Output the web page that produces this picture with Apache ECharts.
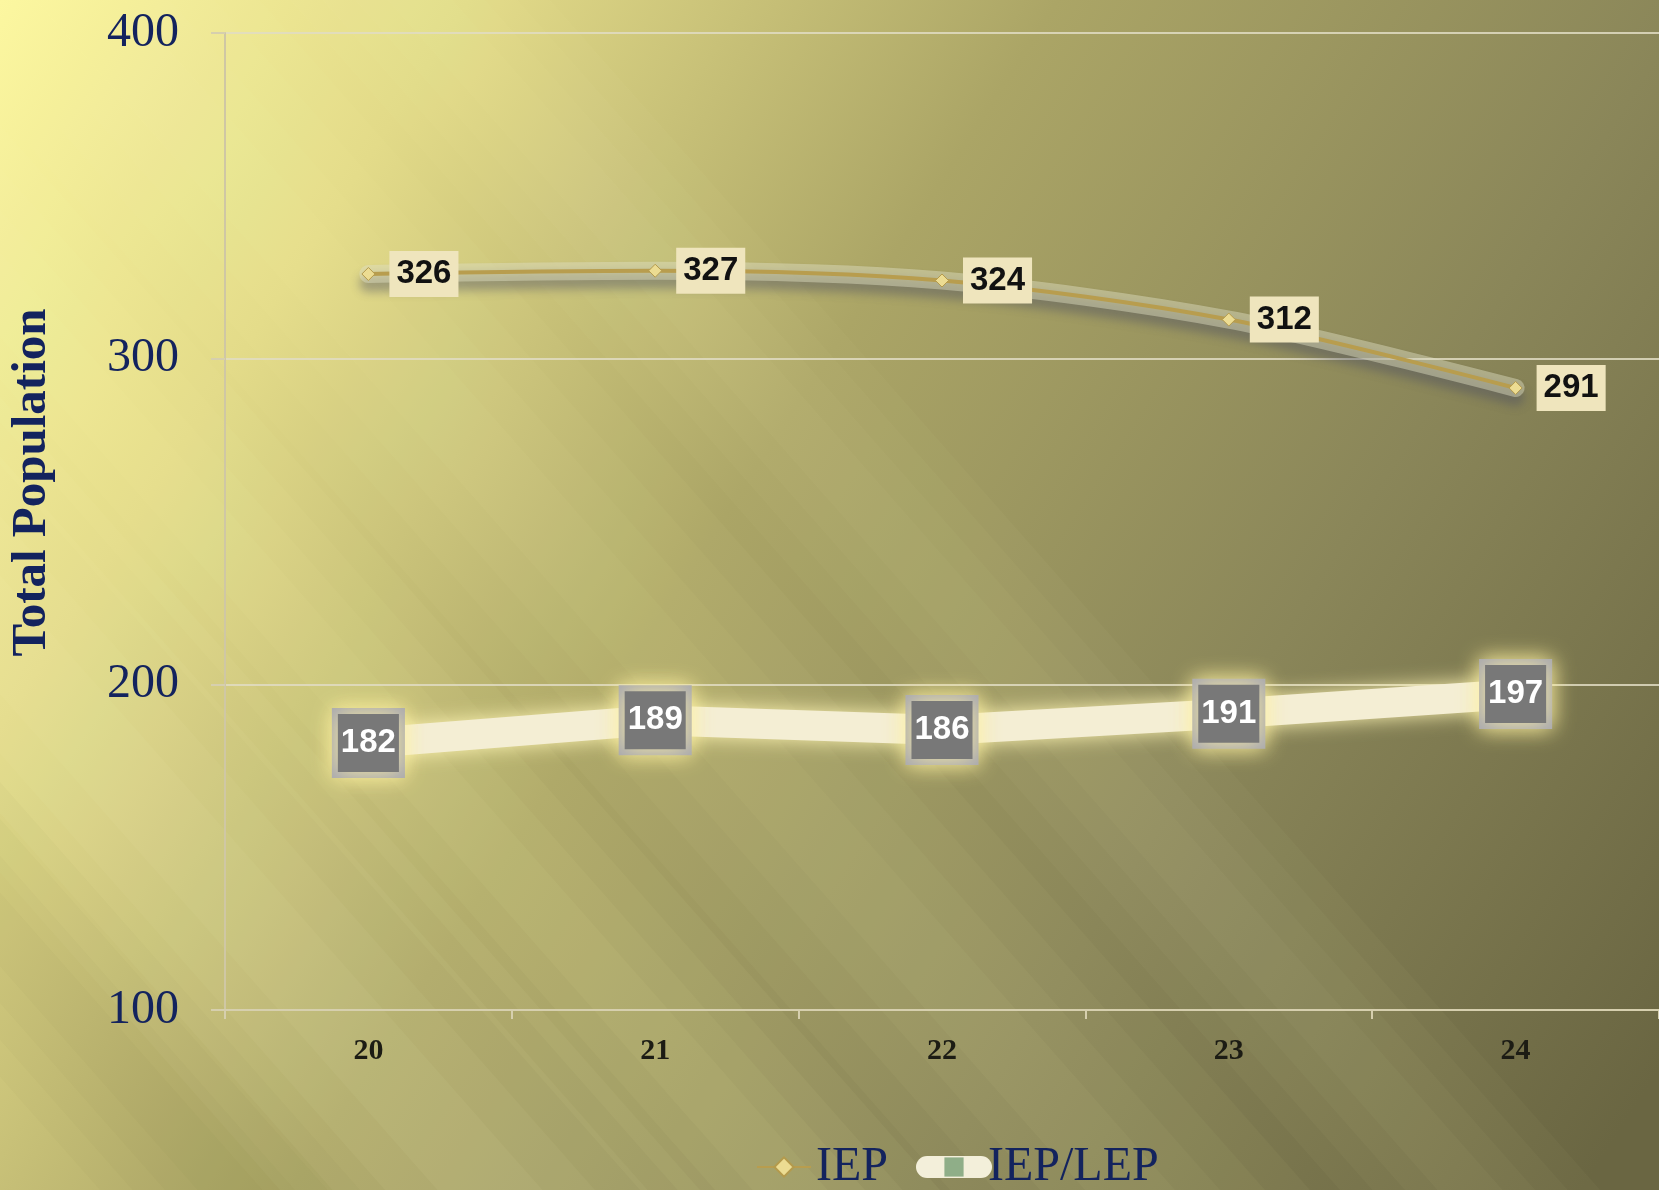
<!DOCTYPE html>
<html>
<head>
<meta charset="utf-8">
<script src="https://cdn.jsdelivr.net/npm/echarts@6/dist/echarts.min.js"></script>
<style>
html,body{margin:0;padding:0;background:#b0a868;}
#chart{width:1659px;height:1190px;}
</style>
</head>
<body>
<div id="chart"></div>
<script>
var categories = ['20', '21', '22', '23', '24'];
var iepValues = [326, 327, 324, 312, 291];
var iepLepValues = [182, 189, 186, 191, 197];
var seriesNames = ['IEP', 'IEP/LEP'];
var yAxisTitle = 'Total Population';

var narrow = "'Liberation Sans Narrow', 'Arial Narrow', 'Liberation Sans', sans-serif";
var serif = "'Liberation Serif', 'DejaVu Serif', serif";

// soft diagonal light streaks running down-right ("\"), built from nested translucent bands
function softStreak(cx, w, rgb, alpha) {
  var dx = 1050, out = [];
  for (var k = 1; k <= 4; k++) {
    var hw = w * k / 8;
    out.push({
      type: 'polygon', z: -10, silent: true,
      shape: { points: [[cx - hw, 0], [cx + hw, 0], [cx + hw + dx, 1190], [cx - hw + dx, 1190]] },
      style: { fill: 'rgba(' + rgb + ',' + alpha + ')' }
    });
  }
  return out;
}

var decor = [].concat(
  softStreak(-560, 420, '255,255,190', 0.05),
  softStreak(-260, 300, '255,255,185', 0.05),
  softStreak(80, 360, '255,255,190', 0.04),
  softStreak(420, 260, '255,255,200', 0.03),
  softStreak(-820, 260, '70,65,35', 0.025)
);

var chart = echarts.init(document.getElementById('chart'));
chart.setOption({
  backgroundColor: {
    type: 'linear', x: 0, y: 0, x2: 1, y2: 0.9,
    colorStops: [
      { offset: 0, color: '#fcf7a0' },
      { offset: 0.2, color: '#e2da88' },
      { offset: 0.45, color: '#aba566' },
      { offset: 0.72, color: '#8a8659' },
      { offset: 1, color: '#6a6642' }
    ]
  },
  graphic: decor,
  grid: { left: 224, top: 33, width: 1440, bottom: 180 },
  legend: {
    data: [
      { name: 'IEP' },
      {
        name: 'IEP/LEP',
        itemStyle: { color: '#8fae88', borderColor: '#8fae88' },
        lineStyle: { color: '#f3efda', width: 22, cap: 'round', shadowBlur: 0 },
        textStyle: { padding: [0, 0, 0, 2] }
      }
    ],
    left: 751, top: 1138,
    itemWidth: 54, itemHeight: 24, itemGap: 28,
    textStyle: { fontFamily: serif, fontSize: 48, color: '#13235e' }
  },
  xAxis: {
    type: 'category',
    data: categories,
    boundaryGap: true,
    axisLine: { lineStyle: { color: '#d6cfae', width: 2 } },
    axisTick: { show: true, length: 9, lineStyle: { color: '#d6cfae', width: 2 } },
    axisLabel: { fontFamily: serif, fontSize: 30, fontWeight: 'bold', color: '#1c1c14', margin: 26 }
  },
  yAxis: {
    type: 'value',
    min: 100, max: 400, interval: 100,
    name: yAxisTitle,
    nameLocation: 'middle',
    nameGap: 168,
    nameTextStyle: { fontFamily: serif, fontSize: 49, fontWeight: 'bold', color: '#13235e', padding: [0, 0, 0, 78] },
    axisLine: { show: true, lineStyle: { color: '#cfc7a4', width: 2 } },
    axisTick: { show: true, length: 14, lineStyle: { color: '#d6cfae', width: 2 } },
    splitLine: { lineStyle: { color: 'rgba(225,220,195,0.85)', width: 2 } },
    axisLabel: { fontFamily: serif, fontSize: 48, color: '#13235e', margin: 46 }
  },
  series: [
    {
      name: 'IEP-shadow',
      type: 'line',
      data: iepValues,
      smooth: 0.3,
      z: 2,
      silent: true,
      symbol: 'none',
      tooltip: { show: false },
      lineStyle: { color: 'rgba(225,225,195,0.45)', width: 18, cap: 'round', shadowColor: 'rgba(72,74,98,0.9)', shadowBlur: 10, shadowOffsetY: 9 }
    },
    {
      name: seriesNames[0],
      type: 'line',
      data: iepValues,
      smooth: 0.3,
      z: 3,
      symbol: 'diamond',
      symbolSize: 13,
      itemStyle: { color: '#ecdc92', borderColor: '#b49a4c', borderWidth: 1 },
      lineStyle: { color: '#b89d4e', width: 4 },
      label: {
        show: true, position: 'right', distance: 14,
        fontFamily: narrow, fontSize: 33, fontWeight: 'bold', color: '#111111',
        backgroundColor: '#efe5bd', padding: [5, 7, 3, 7], lineHeight: 38
      }
    },
    {
      name: seriesNames[1],
      type: 'line',
      data: iepLepValues,
      z: 2,
      symbol: 'rect',
      symbolSize: 2,
      itemStyle: { color: '#f4eed4' },
      lineStyle: { color: '#f4eed4', width: 30, shadowColor: 'rgba(255,246,180,0.95)', shadowBlur: 20 },
      label: {
        show: true, position: 'inside',
        fontFamily: narrow, fontSize: 33, fontWeight: 'bold', color: '#ffffff',
        backgroundColor: '#787878', borderColor: '#a6a6b0', borderWidth: 6,
        padding: [10, 3, 8, 3], lineHeight: 40,
        shadowColor: 'rgba(255,242,160,0.95)', shadowBlur: 22
      }
    }
  ]
});
</script>
</body>
</html>
